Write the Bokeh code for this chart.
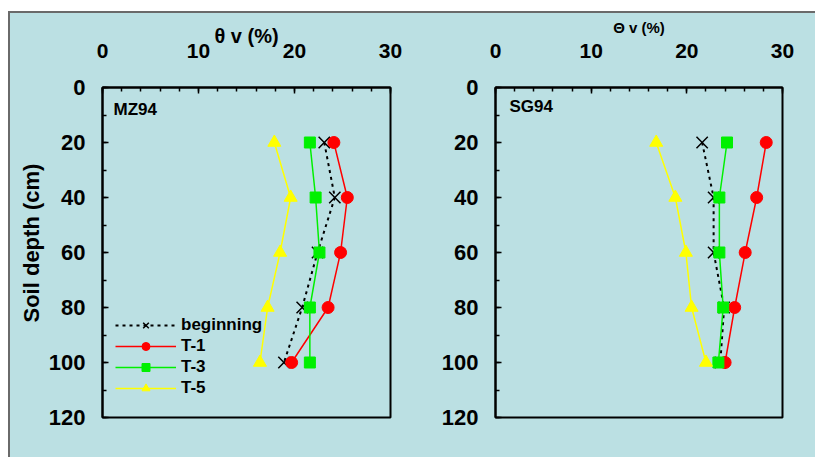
from bokeh.plotting import figure
from bokeh.layouts import row, column
from bokeh.models import Range1d, FixedTicker, Label, Spacer, Title
from bokeh.embed import file_html
from bokeh.resources import INLINE

# ---- data ----
depth = [20, 40, 60, 80, 100]

mz_beginning = [23.1, 24.2, 22.4, 20.8, 18.9]
mz_t1 = [24.1, 25.5, 24.8, 23.5, 19.7]
mz_t3 = [21.6, 22.2, 22.6, 21.6, 21.6]
mz_t5 = [17.9, 19.6, 18.5, 17.2, 16.4]

sg_beginning = [21.6, 22.8, 22.8, 23.9, 23.5]
sg_t1 = [28.3, 27.3, 26.1, 25.0, 24.0]
sg_t3 = [24.2, 23.4, 23.4, 23.8, 23.3]
sg_t5 = [16.8, 18.8, 19.9, 20.5, 22.0]

x_ticks = [0, 10, 20, 30]
x_minor = list(range(0, 31, 2))
y_ticks = [0, 20, 40, 60, 80, 100, 120]
y_minor = list(range(0, 121, 10))

BG = "#bbe0e3"
EDGE = "#6a6a6a"
FONT = "Liberation Sans"


def make_panel(width, height, bl, br, bt, bb, xlabel, xlabel_size, xlabel_standoff):
    p = figure(width=width, height=height, output_backend="svg", toolbar_location=None,
               x_range=Range1d(0, 30), y_range=Range1d(120, 0),
               x_axis_location="above", min_border_left=bl, min_border_right=br,
               min_border_top=bt, min_border_bottom=bb)
    p.background_fill_color = BG
    p.border_fill_color = BG
    p.outline_line_color = "black"
    p.outline_line_width = 2
    p.xgrid.visible = False
    p.ygrid.visible = False
    for ax in (p.xaxis[0], p.yaxis[0]):
        ax.axis_line_width = 2
        ax.axis_line_color = "black"
        ax.major_tick_in = 6
        ax.major_tick_out = 0
        ax.minor_tick_in = 4
        ax.minor_tick_out = 0
        ax.major_tick_line_width = 1.5
        ax.minor_tick_line_width = 1.5
        ax.major_label_text_font = FONT
        ax.major_label_text_font_style = "bold"
        ax.major_label_text_color = "black"
    xa = p.xaxis[0]
    xa.major_label_text_font_size = "21px"
    xa.ticker = FixedTicker(ticks=x_ticks, minor_ticks=x_minor)
    xa.major_label_standoff = 30
    xa.axis_label = xlabel
    xa.axis_label_text_font = FONT
    xa.axis_label_text_font_style = "bold"
    xa.axis_label_text_font_size = xlabel_size
    xa.axis_label_text_color = "black"
    xa.axis_label_standoff = xlabel_standoff
    ya = p.yaxis[0]
    ya.major_label_text_font_size = "22px"
    ya.ticker = FixedTicker(ticks=y_ticks, minor_ticks=y_minor)
    ya.major_label_standoff = 17
    return p


def add_series(p, beg, t1, t3, t5, legend):
    def lab(s):
        return {"legend_label": s} if legend else {}
    p.line(beg, depth, line_color="black", line_width=2, line_dash="3 4", **lab("beginning"))
    p.scatter(beg, depth, marker="x", size=16, line_color="black", line_width=1.5, **lab("beginning"))
    p.line(t1, depth, line_color="#ff0000", line_width=1.5, **lab("T-1"))
    p.scatter(t1, depth, marker="circle", size=12, fill_color="#ff0000", line_color="#ff0000", **lab("T-1"))
    p.line(t3, depth, line_color="#00f000", line_width=1.5, **lab("T-3"))
    p.scatter(t3, depth, marker="square", size=11, fill_color="#00f000", line_color="#00f000", **lab("T-3"))
    p.line(t5, depth, line_color="#ffff00", line_width=1.5, **lab("T-5"))
    p.scatter(t5, depth, marker="triangle", size=13, fill_color="#ffff00", line_color="#ffff00", **lab("T-5"))


H = 444
# left panel: frame x 102..390, y 87..417 (page); figure starts at page (10, 13)
p1 = make_panel(428, H, 92, 48, 74, 40, "θ v (%)", "20px", -6)
add_series(p1, mz_beginning, mz_t1, mz_t3, mz_t5, True)
lg = p1.legend[0]
lg.location = (13, 19)
lg.background_fill_alpha = 0
lg.border_line_alpha = 0
lg.padding = 0
lg.margin = 0
lg.spacing = 1
lg.glyph_width = 61
lg.glyph_height = 20
lg.label_height = 20
lg.label_standoff = 5
lg.label_text_font = FONT
lg.label_text_font_style = "bold"
lg.label_text_font_size = "17px"
lg.label_text_color = "black"

p1.add_layout(Title(text="Soil depth (cm)", align="left", offset=95, standoff=3,
                    text_font=FONT, text_font_style="bold", text_font_size="22px",
                    text_color="black"), "left")
# label positions are relative to the frame's bottom-left corner
p1.add_layout(Label(x=11, y=308, x_units="screen", y_units="screen", text="MZ94",
                    text_font=FONT, text_font_style="bold", text_font_size="17px",
                    text_color="black", text_align="left", text_baseline="middle"))

# right panel: frame x 492..782, y 87..419
p2 = make_panel(377, H, 54, 33, 74, 38, "Θ v (%)", "15px", 5)
add_series(p2, sg_beginning, sg_t1, sg_t3, sg_t5, False)
p2.add_layout(Label(x=14, y=311, x_units="screen", y_units="screen", text="SG94",
                    text_font=FONT, text_font_style="bold", text_font_size="17px",
                    text_color="black", text_align="left", text_baseline="middle"))

white = {"background-color": "white"}
gray = {"background-color": EDGE}
top_band = column(
    Spacer(width=815, height=11, styles=white),
    row(Spacer(width=8, height=2, styles=white), Spacer(width=807, height=2, styles=gray)),
)
body = row(Spacer(width=8, height=H, styles=white), Spacer(width=2, height=H, styles=gray),
           p1, p2, styles={"background-color": BG})
layout = column(top_band, body)

with open("out.html", "w") as f:
    f.write(file_html(layout, INLINE))
